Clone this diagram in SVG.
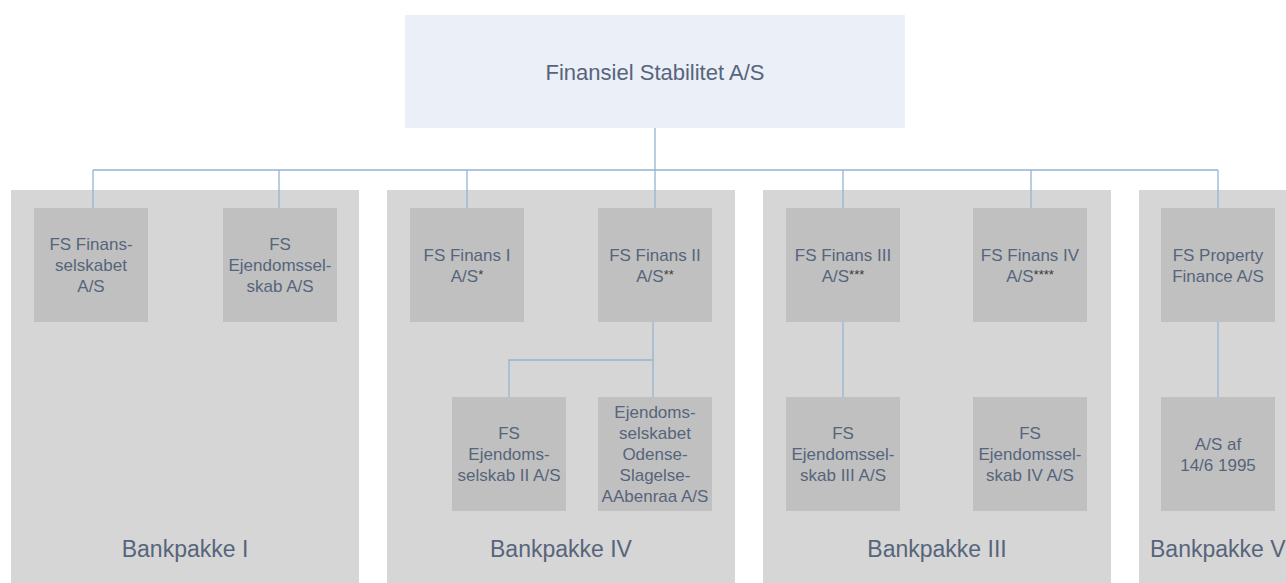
<svg xmlns="http://www.w3.org/2000/svg" width="1286" height="583" viewBox="0 0 1286 583">
<style>
.panel{fill:#d6d6d6}
.node{fill:#c0c0c0}
.top{fill:#ebeff7}
text{font-family:"Liberation Sans",Arial,sans-serif;fill:#56657b;text-anchor:middle}
.t{font-size:17px}
.big{font-size:22px}
.lbl{font-size:23px}
.ast{fill:#3a3a3a;font-size:13px}
.conn{fill:none;stroke:#94b4d2;stroke-width:1.3}
</style>
<rect width="1286" height="583" fill="#ffffff"/>
<g id="panels">
<rect class="panel" x="11" y="190" width="348" height="393"/>
<rect class="panel" x="387" y="190" width="348" height="393"/>
<rect class="panel" x="763" y="190" width="348" height="393"/>
<rect class="panel" x="1139" y="190" width="160" height="393"/>
<text class="lbl" x="185" y="557">Bankpakke I</text>
<text class="lbl" x="561" y="557">Bankpakke IV</text>
<text class="lbl" x="937" y="557">Bankpakke III</text>
<text class="lbl" x="1150" y="557" style="text-anchor:start">Bankpakke V</text>
</g>
<g id="connectors">
<path class="conn" d="M655 128V170M93 170H1218M93 170V208M279 170V208M467 170V208M655 170V208M843 170V208M1031 170V208M1218 170V208"/>
<path class="conn" d="M653 322V397M653 360H509V397"/>
<path class="conn" d="M843 322V397"/>
<path class="conn" d="M1218 322V397"/>
</g>
<g id="n-root">
<rect class="top" x="405" y="15" width="500" height="113"/>
<text class="big" x="655" y="80">Finansiel Stabilitet A/S</text>
</g>
<g id="n-finansselskabet">
<rect class="node" x="34" y="208" width="114" height="114"/>
<text class="t" x="91"><tspan x="91" y="250">FS Finans-</tspan><tspan x="91" y="271">selskabet</tspan><tspan x="91" y="292">A/S</tspan></text>
</g>
<g id="n-ejendomsselskab">
<rect class="node" x="223" y="208" width="114" height="114"/>
<text class="t" x="280"><tspan x="280" y="250">FS</tspan><tspan x="280" y="271">Ejendomssel-</tspan><tspan x="280" y="292">skab A/S</tspan></text>
</g>
<g id="n-finans1">
<rect class="node" x="410" y="208" width="114" height="114"/>
<text class="t" x="467"><tspan x="467" y="261">FS Finans I</tspan><tspan x="467" y="282">A/S<tspan class="ast" dy="-3">*</tspan></tspan></text>
</g>
<g id="n-finans2">
<rect class="node" x="598" y="208" width="114" height="114"/>
<text class="t" x="655"><tspan x="655" y="261">FS Finans II</tspan><tspan x="655" y="282">A/S<tspan class="ast" dy="-3">**</tspan></tspan></text>
</g>
<g id="n-ejendom2">
<rect class="node" x="452" y="397" width="114" height="114"/>
<text class="t" x="509"><tspan x="509" y="439">FS</tspan><tspan x="509" y="460">Ejendoms-</tspan><tspan x="509" y="481">selskab II A/S</tspan></text>
</g>
<g id="n-osa">
<rect class="node" x="598" y="397" width="114" height="114"/>
<text class="t" x="655"><tspan x="655" y="418">Ejendoms-</tspan><tspan x="655" y="439">selskabet</tspan><tspan x="655" y="460">Odense-</tspan><tspan x="655" y="481">Slagelse-</tspan><tspan x="655" y="502">AAbenraa A/S</tspan></text>
</g>
<g id="n-finans3">
<rect class="node" x="786" y="208" width="114" height="114"/>
<text class="t" x="843"><tspan x="843" y="261">FS Finans III</tspan><tspan x="843" y="282">A/S<tspan class="ast" dy="-3">***</tspan></tspan></text>
</g>
<g id="n-finans4">
<rect class="node" x="973" y="208" width="114" height="114"/>
<text class="t" x="1030"><tspan x="1030" y="261">FS Finans IV</tspan><tspan x="1030" y="282">A/S<tspan class="ast" dy="-3">****</tspan></tspan></text>
</g>
<g id="n-ejendom3">
<rect class="node" x="786" y="397" width="114" height="114"/>
<text class="t" x="843"><tspan x="843" y="439">FS</tspan><tspan x="843" y="460">Ejendomssel-</tspan><tspan x="843" y="481">skab III A/S</tspan></text>
</g>
<g id="n-ejendom4">
<rect class="node" x="973" y="397" width="114" height="114"/>
<text class="t" x="1030"><tspan x="1030" y="439">FS</tspan><tspan x="1030" y="460">Ejendomssel-</tspan><tspan x="1030" y="481">skab IV A/S</tspan></text>
</g>
<g id="n-property">
<rect class="node" x="1161" y="208" width="114" height="114"/>
<text class="t" x="1218"><tspan x="1218" y="261">FS Property</tspan><tspan x="1218" y="282">Finance A/S</tspan></text>
</g>
<g id="n-as1995">
<rect class="node" x="1161" y="397" width="114" height="114"/>
<text class="t" x="1218"><tspan x="1218" y="450">A/S af</tspan><tspan x="1218" y="471">14/6 1995</tspan></text>
</g>
</svg>
